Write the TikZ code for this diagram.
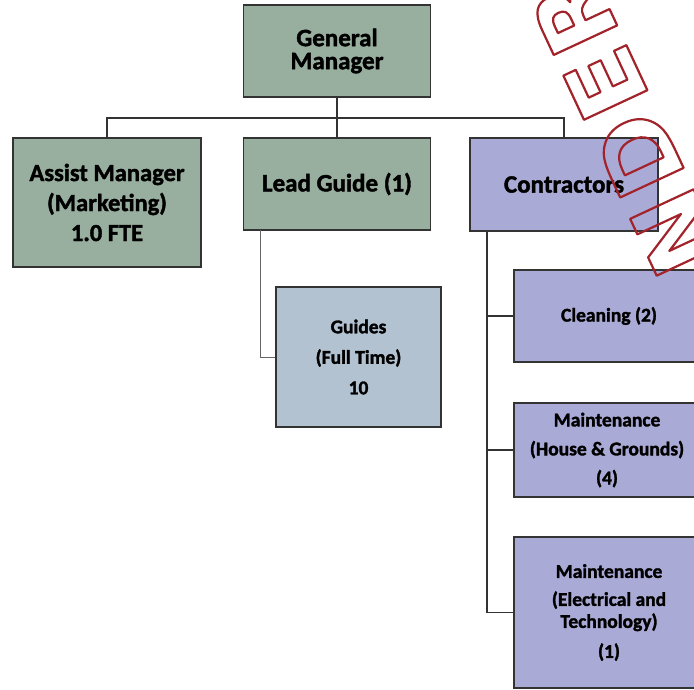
\documentclass[tikz,border=0pt]{standalone}
\usepackage{fontspec}
\setmainfont{Carlito}[BoldFeatures={FakeBold=1.6}]
\newfontfamily\wmfont{DejaVu Sans}
\usetikzlibrary{calc}
\definecolor{gbox}{HTML}{98AE9E}
\definecolor{pbox}{HTML}{AAAAD6}
\definecolor{bbox}{HTML}{B3C2D0}
\definecolor{wmred}{HTML}{A3232A}
\newcommand\outlinetext[1]{\special{pdf:literal direct 1 Tr 2.2 w 1 j}#1\special{pdf:literal direct 0 Tr}}
\begin{document}
\begin{tikzpicture}[x=1pt,y=-1pt,
  box/.style={draw=black!80, line width=1.2pt, align=center, inner sep=0pt},
  big/.style={font=\bfseries\fontsize{25}{23}\selectfont},
  small/.style={font=\bfseries\fontsize{19.5}{22}\selectfont},
  conn/.style={draw=black!80, line width=1.2pt},
  thinconn/.style={draw=black!60, line width=0.9pt},
  stamp/.style={rotate=115, inner sep=0pt, text=wmred, font=\wmfont\bfseries\fontsize{96}{96}\selectfont}]
\useasboundingbox[fill=white] (0,0) rectangle (694,689);

% boxes
\node[box, fill=gbox, minimum width=187pt, minimum height=92pt, big] (gm) at (337,51)
  {General\\Manager};
\node[box, fill=gbox, minimum width=188pt, minimum height=129pt, font=\bfseries\fontsize{24.5}{30}\selectfont] (am) at (107,202.5)
  {Assist Manager\\(Marketing)\\1.0 FTE};
\node[box, fill=gbox, minimum width=187pt, minimum height=92pt, big] (lg) at (337,184)
  {Lead Guide (1)};
\node[box, fill=pbox, minimum width=188pt, minimum height=93pt, big] (co) at (564,184.5)
  {Contractors};
\node[box, fill=bbox, minimum width=165pt, minimum height=140pt, font=\bfseries\fontsize{19.5}{30.5}\selectfont] (gu) at (358.5,357)
  {Guides\\(Full Time)\\10};
\node[box, fill=pbox, minimum width=190pt, minimum height=92pt, small] (cl) at (609,316)
  {Cleaning (2)};
\node[box, fill=pbox, minimum width=186pt, minimum height=94pt, font=\bfseries\fontsize{19.5}{29}\selectfont] (mh) at (607,450)
  {Maintenance\\(House \& Grounds)\\(4)};
\node[box, fill=pbox, minimum width=190pt, minimum height=151pt, small] (me) at (609,612.5)
  {Maintenance\\[6pt](Electrical and\\Technology)\\[8pt](1)};

% connectors
\coordinate (bus) at (337,118);
\coordinate (lgdrop) at (260,230);
\coordinate (codrop) at (487,231);
\draw[conn] (gm.south) -- (bus);
\draw[conn] (am.north) |- (bus) -| (co.north);
\draw[conn] (bus) -- (lg.north);
\draw[thinconn] (lgdrop) |- (gu.west);
\draw[conn] (codrop) |- (me.west);
\draw[conn] (codrop) |- (cl.west);
\draw[conn] (codrop) |- (mh.west);

% stamp
\node[stamp] (wm) at (625,125) {\outlinetext{N\kern6pt D\kern6pt E\kern6pt R}};
\end{tikzpicture}
\end{document}
